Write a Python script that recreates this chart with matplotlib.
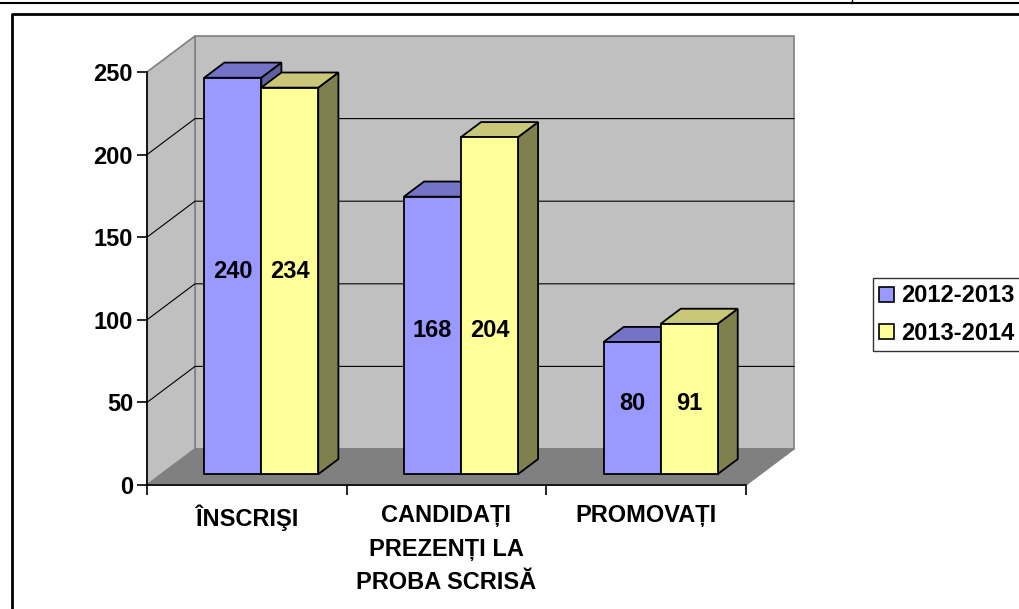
import matplotlib.pyplot as plt
from matplotlib.patches import Polygon, Patch
import numpy as np

# data
categories = ["ÎNSCRIŞI", "CANDIDAȚI\nPREZENȚI LA\nPROBA SCRISĂ", "PROMOVAȚI"]
series_names = ["2012-2013", "2013-2014"]
values_2012 = [240, 168, 80]
values_2013 = [234, 204, 91]
y_ticks = [0, 50, 100, 150, 200, 250]

front_col = ["#9999FF", "#FFFF99"]
top_col = ["#7373C8", "#C8C878"]
side_col = ["#5F5F9E", "#80804F"]

plt.rcParams["font.family"] = ["Liberation Sans", "DejaVu Sans"]
plt.rcParams["font.weight"] = "bold"
FS = 17

fig = plt.figure(figsize=(10.19, 6.09), dpi=100)
W, H = 1019, 609
ax = fig.add_axes([147 / W, (H - 485) / H, 599 / W, 413 / H])
ax.set_xlim(-0.5, 2.5)
ax.set_ylim(0, 250)

# depth offset for z=1 (category units, value units)
DX = 48 / (599 / 3)
DY = 36 / (413 / 250)


def P(x, y, z):
    return (x + z * DX, y + z * DY)


def poly(pts, fc, ec, lw, zo):
    ax.add_patch(Polygon(pts, closed=True, facecolor=fc, edgecolor=ec,
                         linewidth=lw, zorder=zo, clip_on=False, joinstyle="miter"))


x0, x1, ymax = -0.5, 2.5, 250
# back wall, side wall, floor
poly([P(x0, 0, 1), P(x1, 0, 1), P(x1, ymax, 1), P(x0, ymax, 1)], "#C0C0C0", "#808080", 1.2, 1)
poly([P(x0, 0, 0), P(x0, 0, 1), P(x0, ymax, 1), P(x0, ymax, 0)], "#C0C0C0", "#808080", 1.2, 1)
for v in y_ticks[1:-1]:
    xs, ys = zip(P(x0, v, 0), P(x0, v, 1), P(x1, v, 1))
    ax.plot(xs, ys, color="black", lw=0.8, zorder=2, clip_on=False)
poly([P(x0, 0, 0), P(x1, 0, 0), P(x1, 0, 1), P(x0, 0, 1)], "#808080", "#808080", 1.0, 2)

# bars
bw = 0.2855
za, zb = 0.3, 0.72
for i in range(len(categories)):
    for j, vals in enumerate([values_2012, values_2013]):
        v = vals[i]
        l = i - bw + j * bw
        r = l + bw
        zo = 3 + i * 3 + j
        poly([P(r, 0, za), P(r, 0, zb), P(r, v, zb), P(r, v, za)], side_col[j], "black", 1.3, zo)
        poly([P(l, v, za), P(r, v, za), P(r, v, zb), P(l, v, zb)], top_col[j], "black", 1.3, zo)
        poly([P(l, 0, za), P(r, 0, za), P(r, v, za), P(l, v, za)], front_col[j], "black", 1.3, zo)
    lab_y = values_2012[i] / 2 + 3
    for j, vals in enumerate([values_2012, values_2013]):
        cx = i - bw / 2 + j * bw
        tx, ty = P(cx, lab_y, za)
        ax.text(tx, ty, str(vals[i]), ha="center", va="center", fontsize=FS,
                fontweight="bold", zorder=20)

# axes
for s in ["top", "right"]:
    ax.spines[s].set_visible(False)
ax.spines["left"].set_linewidth(1.2)
ax.spines["bottom"].set_linewidth(1.2)
ax.set_yticks(y_ticks)
ax.set_yticklabels([str(t) for t in y_ticks])
ax.tick_params(axis="y", length=7, width=1.2, pad=3, labelsize=FS)
ax.set_xticks([-0.5, 0.5, 1.5, 2.5])
ax.set_xticklabels([])
ax.set_xticks([0, 1, 2], minor=True)
ax.set_xticklabels(categories, minor=True, fontsize=FS, fontweight="bold",
                   linespacing=1.58, va="top")
ax.tick_params(axis="x", which="major", length=7, width=1.2)
ax.tick_params(axis="x", which="minor", length=0, pad=14)
ax.patch.set_visible(False)

# legend
handles = [Patch(facecolor=c, edgecolor="black", linewidth=1.2) for c in front_col]
leg = fig.legend(handles, series_names, loc="upper left",
                 bbox_to_anchor=(873 / W, 1 - 278 / H), frameon=True, fancybox=False,
                 edgecolor="black", fontsize=FS, handlelength=0.6, handleheight=0.6,
                 handletextpad=0.3, borderpad=0.27, labelspacing=0.62, borderaxespad=0)
leg.get_frame().set_linewidth(1.0)
for t in leg.get_texts():
    t.set_fontweight("bold")

# outer frame lines
fig.add_artist(plt.Line2D([0, 1], [1 - 3 / H, 1 - 3 / H], color="black", lw=1.5))
fig.add_artist(plt.Line2D([852 / W, 852 / W], [1 - 3 / H, 1], color="black", lw=1))
fig.add_artist(plt.Line2D([12 / W, 12 / W, 1.01], [-0.01, 1 - 14 / H, 1 - 14 / H],
                          color="black", lw=2))

fig.savefig("out.png", dpi=100)
